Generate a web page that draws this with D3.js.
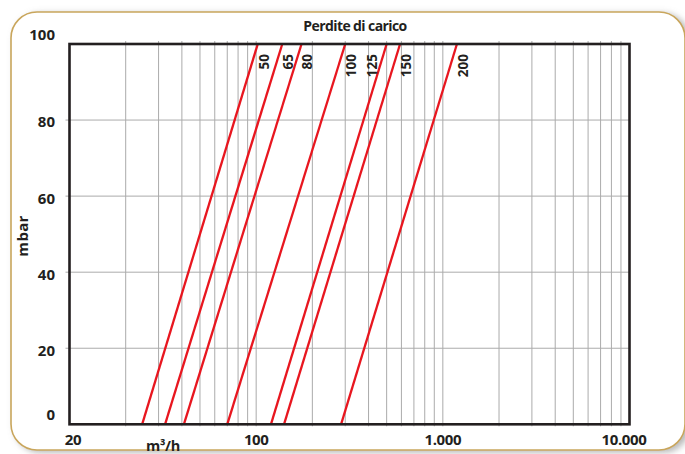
<!DOCTYPE html>
<html>
<head>
<meta charset="utf-8">
<script src="https://cdn.jsdelivr.net/npm/d3@7"></script>
<style>
  body { margin: 0; background: #fff; }
  svg { display: block; font-family: "Open Sans", "DejaVu Sans", sans-serif; font-weight: 700; }
</style>
</head>
<body>
<svg id="chart" width="685" height="454"></svg>
<script>
// Data.
var diameters = [50, 65, 80, 100, 125, 150, 200];
var flowAtZero = [24.5, 32.5, 41, 70, 120, 141, 285];     // m3/h at 0 mbar
var flowAtHundred = [102, 138, 175, 300, 500, 590, 1190]; // m3/h at 100 mbar
var yTicks = [0, 20, 40, 60, 80, 100];
var xTickValues = [10, 100, 1000, 10000];
var xTickLabels = ["20", "100", "1.000", "10.000"];
var xGridValues = [20, 30, 40, 50, 60, 70, 80, 90, 100, 200, 300, 400, 500, 600, 700, 800, 900, 1000,
                   2000, 3000, 4000, 5000, 6000, 7000, 8000, 9000];

// Layout constants.
var my = {
  left: 69.5, right: 629.5, top: 44, bottom: 424.3,
  red: "#e8161f",
  frame: "#231f20",
  grid: "#ababab"
};

var svg = d3.select("#chart");

// Card with rounded border and a soft shadow on the right.
var defs = svg.append("defs");
var f = defs.append("filter").attr("id", "shadow").attr("x", "-5%").attr("y", "-5%").attr("width", "115%").attr("height", "115%");
f.append("feDropShadow").attr("dx", 4).attr("dy", 2).attr("stdDeviation", 3).attr("flood-color", "#888").attr("flood-opacity", 0.6);

svg.append("rect")
  .attr("x", 11).attr("y", 12).attr("width", 674).attr("height", 438)
  .attr("rx", 26).attr("ry", 26)
  .attr("fill", "#fff").attr("stroke", "#c9a65c").attr("stroke-width", 1.6)
  .attr("filter", "url(#shadow)");

var x = d3.scaleLog().domain([10, 10000]).range([my.left, my.right]);
var y = d3.scaleLinear().domain([0, 100]).range([my.bottom, my.top]);

// Grid lines.
svg.append("g").selectAll("line").data(xGridValues).join("line")
  .attr("x1", d => x(d)).attr("x2", d => x(d))
  .attr("y1", my.top - 3).attr("y2", my.bottom + 2)
  .attr("stroke", my.grid).attr("stroke-width", 1);

svg.append("g").selectAll("line").data(yTicks.filter(d => d > 0 && d < 100)).join("line")
  .attr("x1", my.left - 4).attr("x2", my.right)
  .attr("y1", d => y(d)).attr("y2", d => y(d))
  .attr("stroke", my.grid).attr("stroke-width", 1);

// Red curves, one per nominal diameter.
var curves = diameters.map(function(dn, i) {
  return {dn: dn, pts: [[flowAtZero[i], 0], [flowAtHundred[i], 100]]};
});
var line = d3.line().x(d => x(d[0])).y(d => y(d[1]));

svg.append("g").selectAll("path").data(curves).join("path")
  .attr("d", d => line(d.pts))
  .attr("fill", "none").attr("stroke", my.red).attr("stroke-width", 2.3);

// Frame.
svg.append("rect")
  .attr("x", my.left).attr("y", my.top)
  .attr("width", my.right - my.left).attr("height", my.bottom - my.top)
  .attr("fill", "none").attr("stroke", my.frame).attr("stroke-width", 2.6);

// Diameter labels, rotated, near the top of each line.
svg.append("g").selectAll("text").data(curves).join("text")
  .attr("transform", function(d) {
    var dx = d.dn === 125 ? -14.5 : 6;
    return "translate(" + (x(d.pts[1][0]) + dx) + "," + 54 + ") rotate(-90)";
  })
  .attr("text-anchor", "end").attr("dy", "0.36em")
  .attr("font-size", 13.5).attr("fill", "#231f20")
  .text(d => d.dn);

// Y tick labels.
svg.append("g").selectAll("text").data(yTicks).join("text")
  .attr("x", 55)
  .attr("y", function(d) {
    if (d === 0) return y(d) - 10;
    if (d === 100) return y(d) - 9;
    return y(d) + 2;
  })
  .attr("dy", "0.36em").attr("text-anchor", "end")
  .attr("font-size", 15).attr("fill", "#231f20")
  .text(d => d);

// X tick labels.
svg.append("g").selectAll("text").data(xTickValues).join("text")
  .attr("x", d => Math.max(73, Math.min(624, x(d))))
  .attr("y", 445)
  .attr("text-anchor", "middle")
  .attr("font-size", 15).attr("letter-spacing", -0.4).attr("fill", "#231f20")
  .text((d, i) => xTickLabels[i]);

// Axis titles and chart title.
svg.append("text")
  .attr("x", 163).attr("y", 451).attr("text-anchor", "middle")
  .attr("font-size", 14.5).attr("letter-spacing", -0.3).attr("fill", "#231f20")
  .text("m³/h");

svg.append("text")
  .attr("transform", "translate(23,236) rotate(-90)")
  .attr("text-anchor", "middle").attr("dy", "0.36em")
  .attr("font-size", 15).attr("letter-spacing", 0.3).attr("fill", "#231f20")
  .text("mbar");

svg.append("text")
  .attr("x", 355).attr("y", 31).attr("text-anchor", "middle")
  .attr("font-size", 14).attr("letter-spacing", -0.6).attr("fill", "#231f20")
  .text("Perdite di carico");
</script>
</body>
</html>
